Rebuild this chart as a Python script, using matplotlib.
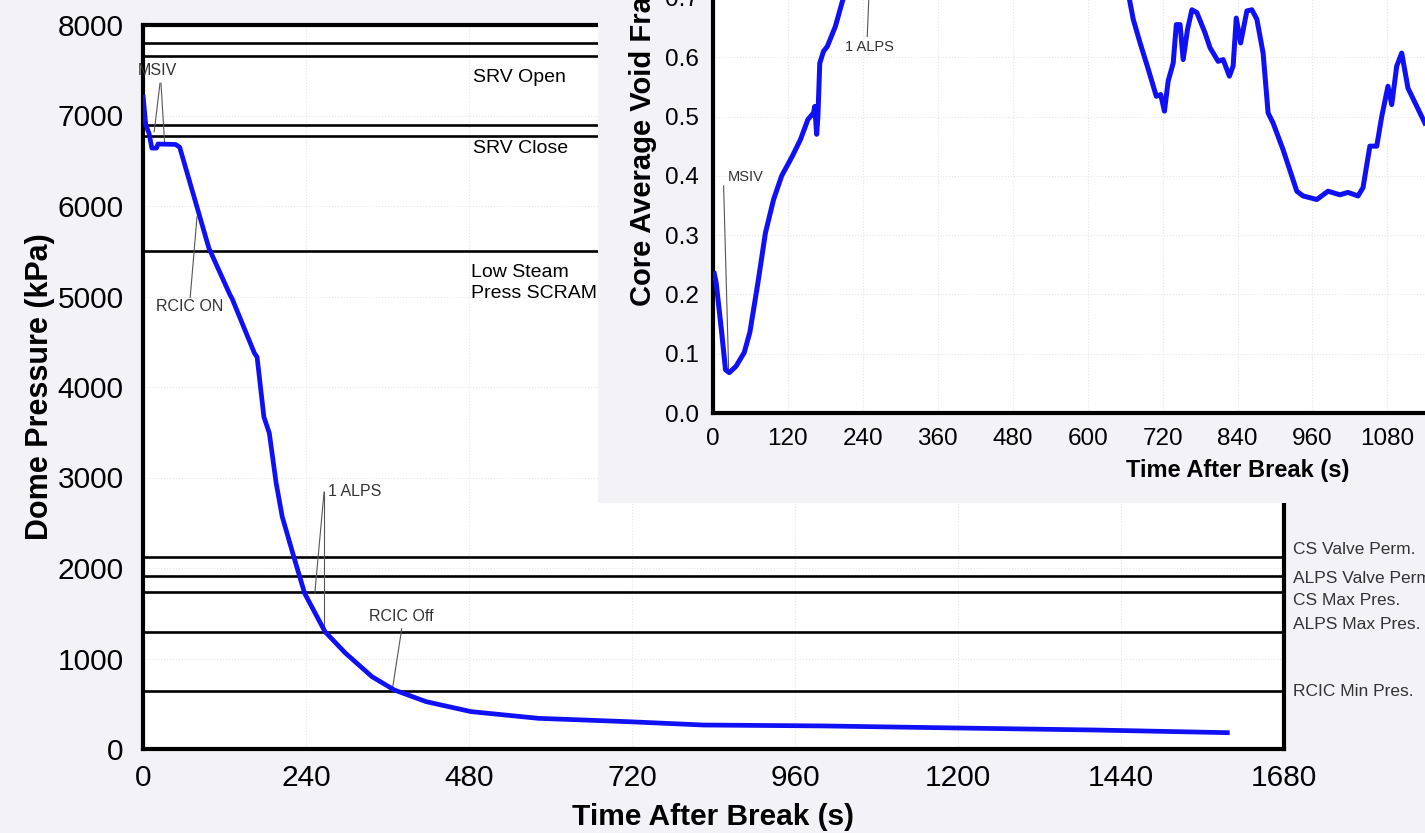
import numpy as np
import matplotlib.pyplot as plt

plt.rcParams['font.family'] = ['Liberation Sans', 'DejaVu Sans']

# Dome pressure transient (s, kPa)
t_press = [0, 4, 9, 13, 20, 22, 48, 54, 97, 128, 131, 164, 168, 178, 186, 196,
           205, 222, 238, 268, 298, 337, 370, 417, 483, 582, 714, 825, 1000,
           1200, 1400, 1600]
p_dome = [7230, 6900, 6800, 6640, 6640, 6685, 6680, 6650, 5535, 5020, 4980,
          4375, 4330, 3670, 3490, 2940, 2567, 2125, 1720, 1296, 1060, 800, 652,
          523, 413, 339, 302, 265, 255, 232, 210, 180]

# Core average void fraction (s, -); the part above 0.7 runs off the top
t_void = [2, 5, 14, 20, 26, 37, 50, 59, 72, 84, 97, 110, 127, 140, 152, 161,
          163, 166, 168, 171, 177, 183, 196, 208, 212, np.nan,
          662, 667, 673, 684, 697, 710, 717, 723, 729, 737, 742, 748, 753, 760,
          767, 775, 788, 796, 809, 817, 827, 833, 838, 845, 855, 863, 871, 881,
          889, 897, 913, 935, 945, 967, 985, 1004, 1017, 1033, 1041, 1052,
          1063, 1071, 1081, 1087, 1095, 1103, 1113, 1140]
void_frac = [0.235, 0.22, 0.135, 0.073, 0.068, 0.079, 0.102, 0.136, 0.22,
             0.304, 0.36, 0.40, 0.433, 0.461, 0.495, 0.506, 0.517, 0.47, 0.50,
             0.59, 0.61, 0.618, 0.652, 0.697, 0.71, np.nan,
             0.71, 0.697, 0.664, 0.624, 0.58, 0.534, 0.537, 0.509, 0.56, 0.59,
             0.655, 0.655, 0.596, 0.647, 0.68, 0.675, 0.641, 0.616, 0.593,
             0.596, 0.568, 0.585, 0.666, 0.624, 0.678, 0.680, 0.664, 0.607,
             0.506, 0.489, 0.444, 0.374, 0.366, 0.36, 0.374, 0.368, 0.372,
             0.366, 0.38, 0.45, 0.45, 0.50, 0.551, 0.52, 0.585, 0.607, 0.548,
             0.489]

# Setpoints (kPa)
upper_setpoints = [7800, 7660, 6900, 6770, 5500]
lower_setpoints = [2120, 1910, 1730, 1290, 640]
lower_names = ['CS Valve Perm.', 'ALPS Valve Perm.', 'CS Max Pres.',
               'ALPS Max Pres.', 'RCIC Min Pres.']
lower_name_y = [2200, 1880, 1645, 1380, 630]

main_xticks = np.arange(0, 1681, 240)
main_yticks = np.arange(0, 8001, 1000)
# only the inset ticks that fall on the page
inset_xticks = np.arange(0, 1081, 120)
inset_yticks = np.arange(0, 0.71, 0.1)

blue = '#1010f4'
bgcol = '#f2f2f7'
note = '#333333'

fig = plt.figure(figsize=(14.25, 8.33), dpi=100, facecolor=bgcol)

# ---- main pressure plot ----
ax = fig.add_axes([143 / 1425, 84 / 833, 1141 / 1425, 724 / 833])
ax.set_facecolor('white')
ax.set_xlim(0, 1680)
ax.set_ylim(0, 8000)
ax.set_xticks(main_xticks)
ax.set_yticks(main_yticks)
ax.tick_params(length=0, labelsize=21.5)
ax.tick_params(axis='x', pad=11)
ax.tick_params(axis='y', pad=14)
ax.grid(True, ls=':', color='#e6e6e6', lw=0.8)
for s in ax.spines.values():
    s.set_linewidth(3)

for v in upper_setpoints + lower_setpoints:
    ax.axhline(v, color='black', lw=1.9, zorder=2)

ax.plot(t_press, p_dome, color=blue, lw=3.4, zorder=3, solid_capstyle='butt')

ax.set_xlabel('Time After Break (s)', fontsize=21.5, fontweight='bold',
              labelpad=8)
ax.set_ylabel('Dome Pressure (kPa)', fontsize=22, fontweight='bold')
ax.yaxis.set_label_coords(-0.077, 0.5)

ax.text(486, 7425, 'SRV Open', fontsize=14, va='center')
ax.text(486, 6640, 'SRV Close', fontsize=14, va='center')
ax.text(483, 5150, 'Low Steam\nPress SCRAM', fontsize=14, va='center',
        linespacing=1.3)

for name, y in zip(lower_names, lower_name_y):
    ax.text(1.008, y, name, transform=ax.get_yaxis_transform(), fontsize=12.5,
            va='center', color=note, clip_on=False)

# event markers
ax.text(-7, 7500, 'MSIV', fontsize=11.5, color=note, va='center')
ax.plot([25, 16.5], [7356, 6821], color='#555555', lw=0.8)
ax.plot([26.5, 31.8], [7356, 6693], color='#555555', lw=0.8)
ax.text(69, 4890, 'RCIC ON', fontsize=11.5, color=note, ha='center',
        va='center')
ax.plot([69.5, 79.5], [4990, 5880], color='#555555', lw=0.8)
ax.text(272, 2840, '1 ALPS', fontsize=11.5, color=note, va='center')
ax.plot([266.6, 253], [2840, 1724], color='#555555', lw=0.8)
ax.plot([266.6, 266.6], [2840, 1315], color='#555555', lw=0.8)
ax.text(381, 1460, 'RCIC Off', fontsize=11.5, color=note, ha='center',
        va='center')
ax.plot([381, 367], [1330, 652], color='#555555', lw=0.8)

# ---- backdrop behind inset ----
bg = fig.add_axes([598 / 1425, 330 / 833, 0.6, 0.62])
bg.set_facecolor(bgcol)
bg.set_xticks([])
bg.set_yticks([])
for s in bg.spines.values():
    s.set_visible(False)

# ---- inset void fraction plot ----
ins = fig.add_axes([713 / 1425, 420 / 833, 1049 / 1425, 593 / 833])
ins.set_facecolor('white')
ins.set_xlim(0, 1680)
ins.set_ylim(0, 1.0)
ins.set_xticks(inset_xticks)
ins.set_yticks(inset_yticks)
ins.set_yticklabels([f'{v:.1f}' for v in inset_yticks])
ins.tick_params(length=0, labelsize=17.5)
ins.tick_params(axis='x', pad=11)
ins.tick_params(axis='y', pad=10)
ins.grid(True, ls=':', color='#e6e6e6', lw=0.8)
for s in ins.spines.values():
    s.set_linewidth(3)
ins.spines['top'].set_visible(False)
ins.spines['right'].set_visible(False)

ins.plot(t_void, void_frac, color=blue, lw=3.6, zorder=3)

ins.set_xlabel('Time After Break (s)', fontsize=17, fontweight='bold',
               labelpad=6)
ins.set_ylabel('Core Average Void Fraction', fontsize=21, fontweight='bold')
ins.yaxis.set_label_coords(-0.053, 0.5)

ins.text(23, 0.398, 'MSIV', fontsize=10.5, color=note, va='center')
ins.plot([17, 25], [0.383, 0.075], color='#555555', lw=0.8)
ins.text(212, 0.617, '1 ALPS', fontsize=10.5, color=note, va='center')
ins.plot([252, 247], [0.76, 0.635], color='#555555', lw=0.8)

fig.savefig('out.png', dpi=100, facecolor=fig.get_facecolor())
